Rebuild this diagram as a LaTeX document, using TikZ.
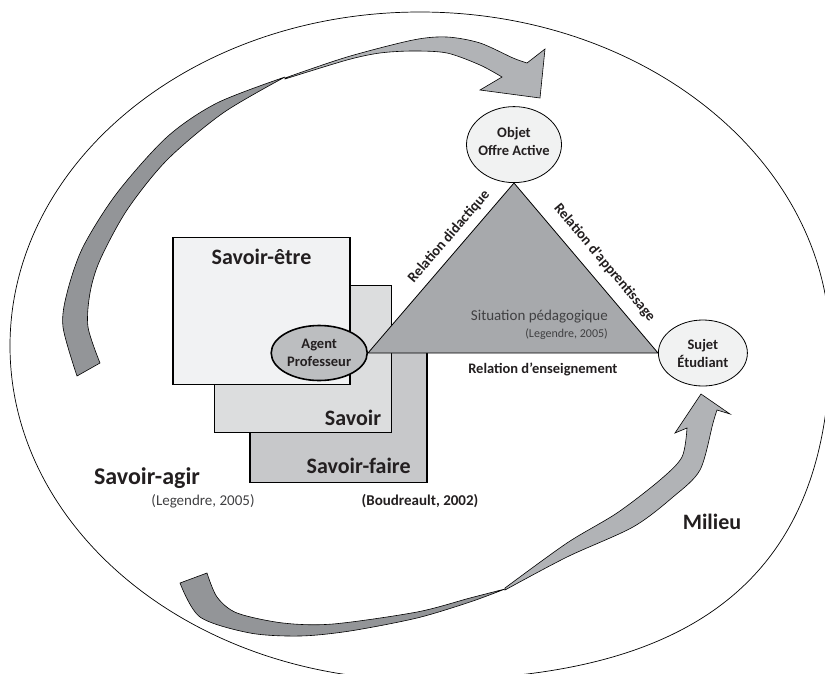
\documentclass[tikz,border=0pt]{standalone}
\usepackage{fontspec}
\setmainfont{Carlito}
\usepackage{tikz}
\usetikzlibrary{shapes.geometric}
\definecolor{ink}{HTML}{231F20}
\definecolor{refgray}{HTML}{404042}
\definecolor{etrefill}{HTML}{F1F2F3}
\definecolor{savoirfill}{HTML}{DCDDDE}
\definecolor{fairefill}{HTML}{C7C8CA}
\definecolor{agentfill}{HTML}{BCBEC0}
\definecolor{trifill}{HTML}{A7A9AC}
\definecolor{rolefill}{HTML}{F1F2F2}
\definecolor{ribdark}{HTML}{939598}
\definecolor{riblight}{HTML}{B1B3B6}
\tikzset{
  box/.style={draw=black, line width=1.6pt, minimum width=177pt, minimum height=147pt, inner sep=0pt},
  boxlabel/.style={font=\fontsize{22}{26}\selectfont\bfseries, text=ink, inner sep=0pt},
  role/.style={ellipse, draw=black, fill=rolefill, line width=0.8pt, inner sep=0pt},
  roletext/.style={font=\fontsize{14.5}{18}\selectfont\bfseries, align=center, text=ink, inner sep=0pt},
  rel/.style={font=\fontsize{14.5}{17}\selectfont\bfseries, text=ink, inner sep=0pt},
  ref/.style={font=\fontsize{15}{18}\selectfont, text=refgray, inner sep=0pt},
  ribbondark/.style={fill=ribdark, draw=black, line width=0.6pt},
  ribbonlight/.style={fill=riblight, draw=black, line width=0.6pt},
}
\begin{document}
\begin{tikzpicture}[x=1pt,y=-1pt]
\useasboundingbox (0,0) rectangle (825,673);
% milieu:
\draw[black, line width=0.7pt] (10,346) .. controls (10,161.5) and (193.6,12) .. (420,12)
  .. controls (646.4,12) and (830,161.5) .. (830,346)
  .. controls (830,613) and (645.5,680) .. (420,680)
  .. controls (193.6,680) and (10,530.5) .. (10,346) -- cycle;
% upper ribbon:
\filldraw[ribbondark] plot[smooth] coordinates {(77,376) (63,327) (67,293) (83,247) (117,193) (167,137) (217,103) (285,77)} -- plot[smooth] coordinates {(285,77) (223,113) (167,160) (127,210) (100,260) (90,293) (88,327) (100,363)} -- cycle;
\filldraw[ribbonlight] plot[smooth] coordinates {(285,78) (347,57) (413,40) (447,37) (480,43) (513,58) (527,63)} -- (545,49) -- (540,98) -- (480,90) -- plot[smooth] coordinates {(502,77) (480,65) (447,53) (413,51) (380,53) (347,60) (285,79)} -- cycle;
% lower ribbon:
\filldraw[ribbondark] plot[smooth] coordinates {(180,583) (200,617) (250,633) (300,636) (350,631) (417,618) (470,602) (505,589)} -- plot[smooth] coordinates {(505,589) (470,598) (417,612) (333,624) (283,623) (237,613) (217,597) (207,573)} -- cycle;
\filldraw[ribbonlight] plot[smooth] coordinates {(505,588) (567,543) (617,513) (660,480) (682,457) (687,428)} -- (675,433) -- (701,394) -- (730,414) -- plot[smooth] coordinates {(717,410) (713,423) (700,470) (673,497) (633,527) (567,557) (505,590)} -- cycle;
% savoirs:
\node[box, fill=fairefill] (faire) at (338.5,409) {};
\node[box, fill=savoirfill] (savoir) at (303,359) {};
\node[box, fill=etrefill] (etre) at (261.5,311) {};
\node[boxlabel, anchor=base] at ([yshift=-28pt]etre.north) {Savoir-être};
\node[boxlabel, anchor=base east] at ([xshift=-11pt,yshift=8pt]savoir.south east) {Savoir};
\node[boxlabel, anchor=base east] at ([xshift=-17pt,yshift=10pt]faire.south east) {Savoir-faire};
% situation pedagogique:
\coordinate (tl) at (368,353);
\coordinate (tt) at (514,183);
\coordinate (tr) at (658,353);
\filldraw[fill=trifill, draw=black, line width=0.8pt] (tl) -- (tt) -- (tr) -- cycle;
\node[ref, align=right, anchor=east] (situation) at (608,325) {Situation pédagogique\\[-1pt]{\fontsize{12}{14}\selectfont(Legendre, 2005)}};
\path (tl) -- (tt) node[rel, sloped, above=8pt, pos=0.63] (didact) {Relation didactique};
\path (tt) -- (tr) node[rel, sloped, above=11pt, pos=0.535] (appr) {Relation d\textquotesingle apprentissage};
\path (tl) -- (tr) node[rel, below=10pt, pos=0.603] (ensei) {Relation d’enseignement};
% poles:
\node[role, fill=agentfill, line width=1.6pt, minimum width=96pt, minimum height=55pt, anchor=east] (agent) at (tl) {};
\node[role, minimum width=95pt, minimum height=76pt, anchor=south] (objet) at (tt) {};
\node[role, minimum width=89pt, minimum height=66pt, anchor=west] (sujet) at (tr) {};
\node[roletext] at (agent.center) {Agent\\Professeur};
\node[roletext] at ([yshift=3pt]objet.center) {Objet\\Offre Active};
\node[roletext] at (sujet.center) {Sujet\\Étudiant};
% legends:
\node[font=\fontsize{24}{28}\selectfont\bfseries, text=ink, inner sep=0pt] (agir) at (147,478) {Savoir-agir};
\node[ref] (agirref) at (203,501) {(Legendre, 2005)};
\node[ref, font=\fontsize{15}{18}\selectfont\bfseries, text=ink] (boudref) at (420,501) {(Boudreault, 2002)};
\node[boxlabel] (milieu) at (712,522) {Milieu};
\end{tikzpicture}
\end{document}
